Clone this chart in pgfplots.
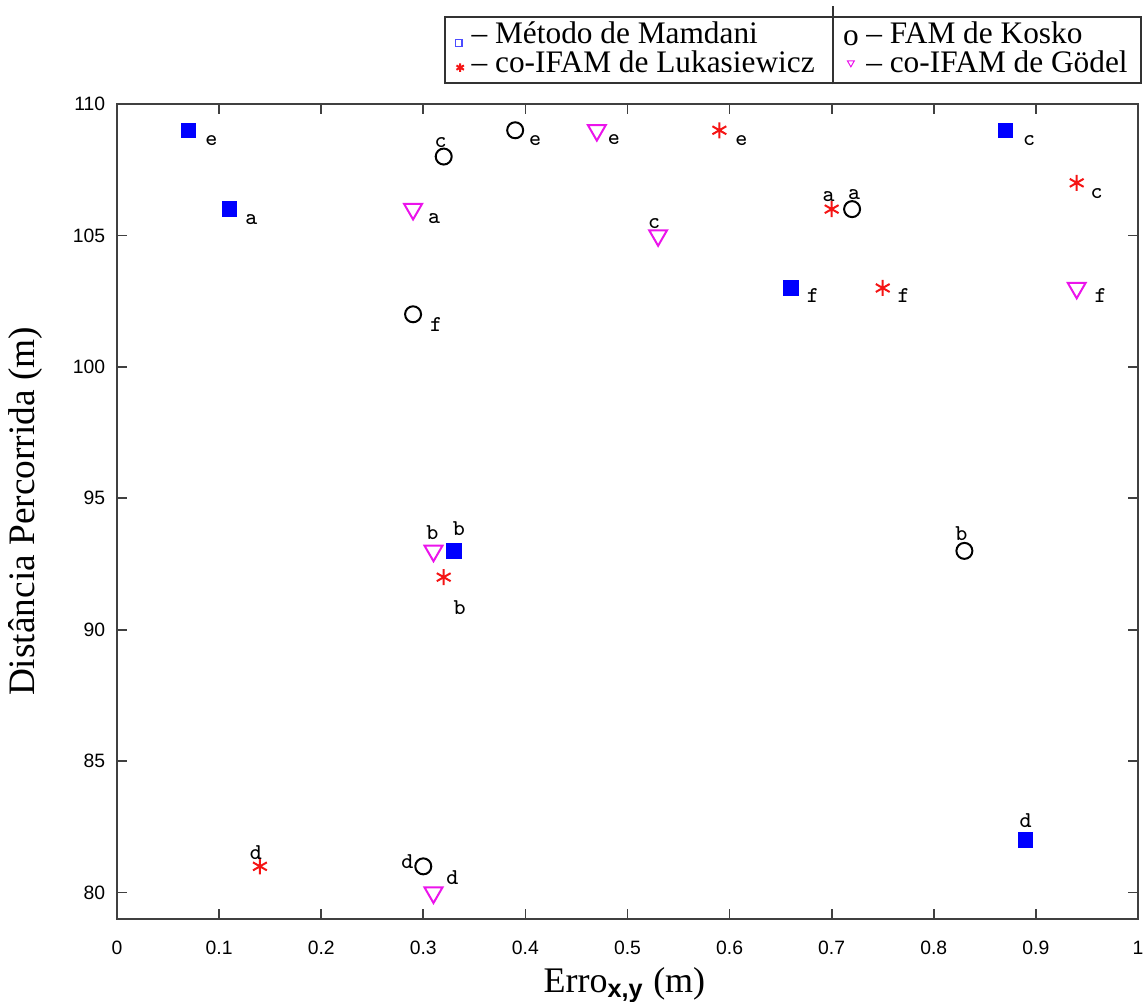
\documentclass[border=0pt]{standalone}
\usepackage{fontspec}
\setmainfont{Liberation Serif}
\setsansfont{Liberation Sans}
\usepackage{pgfplots}
\pgfplotsset{compat=1.18}
\usepackage{pgfplotstable}

\definecolor{mblue}{RGB}{0,0,255}
\definecolor{mred}{RGB}{245,20,20}
\definecolor{mmag}{RGB}{235,20,235}

% x y label, label offset (pt)
\pgfplotstableread{
x y lab dx dy
0.07 109 e 6.9 -3.0
0.11 106 a 6.6 -3.0
0.33 93 b 1.5 6.6
0.66 103 f 6.6 -2.4
0.87 109 c 7.2 -3.0
0.89 82 d 0 5.7
}\mamdani
\pgfplotstableread{
x y lab dx dy
0.39 109 e 6.0 -3.0
0.32 108 c -0.9 4.2
0.29 102 f 6.9 -3.0
0.72 106 a 0.6 4.5
0.83 93 b -0.9 5.1
0.30 81 d -4.8 1.5
}\kosko
\pgfplotstableread{
x y lab dx dy
0.59 109 e 6.6 -3.0
0.70 106 a -0.9 3.9
0.94 107 c 6.0 -3.3
0.75 103 f 6.3 -2.4
0.32 92 b 4.8 -9.0
0.14 81 d -1.2 4.2
}\lukas
\pgfplotstableread{
x y lab dx dy
0.47 109 e 5.1 -2.7
0.29 106 a 6.3 -2.7
0.53 105 c -1.2 3.6
0.94 103 f 7.2 -2.4
0.31 93 b -0.3 5.4
0.31 80 d 5.7 4.5
}\godel

\pgfplotsset{
  lbl/.style={
    only marks,
    nodes near coords,
    point meta=explicit symbolic,
    visualization depends on={\thisrow{dx}\as\dx},
    visualization depends on={\thisrow{dy}\as\dy},
    nodes near coords style={anchor=center, inner sep=0pt, text=black,
      xshift=\dx pt, yshift=\dy pt,
      font=\ttfamily\fontsize{6.8}{7}\selectfont},
  },
}

\begin{document}
\begin{tikzpicture}
\begin{axis}[
  scale only axis,
  width=306.3pt, height=244.5pt,
  clip=false,
  xmin=0, xmax=1, ymin=79, ymax=110,
  xtick={0,0.1,...,1.01},
  ytick={80,85,...,110},
  tick align=inside,
  major tick length=3pt,
  axis line style={black!75},
  every tick/.style={black!75, line width=0.5pt},
  /pgf/number format/assume math mode=true,
  ticklabel style={font=\sffamily\fontsize{5.8}{6}\selectfont},
  xticklabel style={yshift=-3pt},
  xlabel={Erro\textsubscript{\textsf{\bfseries x,y}} (m)},
  ylabel={Distância Percorrida (m)},
  xlabel style={font=\fontsize{10.8}{12}\selectfont, at={(axis description cs:0.497,-0.081)}, anchor=center},
  ylabel style={font=\fontsize{11.2}{12}\selectfont, at={(axis description cs:-0.090,0.5)}, anchor=center},
  legend columns=2,
  legend cell align=left,
  legend style={at={(axis description cs:1.004,1.024)}, anchor=south east,
    draw=black!80, line width=0.6pt, fill=none,
    font=\fontsize{9.4}{10}\selectfont,
    inner xsep=3pt, inner ysep=1pt, row sep=-0.5pt,
    nodes={inner ysep=0.3pt},
    /tikz/every odd column/.append style={column sep=1.3pt},
    /tikz/every even column/.append style={column sep=7.5pt,
      nodes={inner xsep=1pt, inner ysep=0.3pt, text height=6.6pt, text depth=2pt}}},
]
\addplot[lbl, mark=square*, mark size=2.1pt, mblue,
  legend image code/.code={\draw[mblue!70, line width=0.4pt] (0.02cm,-0.11cm) rectangle (0.09cm,-0.04cm);}]
  table[meta=lab] {\mamdani};
\addlegendentry{– Método de Mamdani}
\addplot[lbl, mark=o, mark size=2.4pt, black, mark options={line width=0.6pt},
  legend image code/.code={\node[anchor=base, inner sep=0pt, font=\fontsize{9.4}{10}\selectfont] at (0.07cm,-0.1cm) {o};}]
  table[meta=lab] {\kosko};
\addlegendentry{– FAM de Kosko}
\addplot[lbl, mark=asterisk, mark size=2.4pt, mred, mark options={line width=0.6pt},
  legend image code/.code={\draw[mred, mark=asterisk, mark size=1.3pt, only marks] plot coordinates {(0.07cm,-0.03cm)};}]
  table[meta=lab] {\lukas};
\addlegendentry{– co-IFAM de Lukasiewicz}
\addplot[lbl, mark=triangle, mark size=3.1pt, mmag, mark options={rotate=180, line width=0.6pt},
  legend image code/.code={\draw[mmag, mark=triangle, mark size=1.2pt, mark options={rotate=180, line width=0.3pt}, only marks] plot coordinates {(0.07cm,0.02cm)};}]
  table[meta=lab] {\godel};
\addlegendentry{– co-IFAM de Gödel}
\draw[black!80, line width=0.6pt] (axis description cs:0.701,1.024) -- (axis description cs:0.701,1.120);
\coordinate (bbsw) at (axis description cs:-0.1146,-0.1018);
\coordinate (bbne) at (axis description cs:1.0069,1.1276);
\end{axis}
\pgfresetboundingbox
\path[use as bounding box] (bbsw) rectangle (bbne);
\end{tikzpicture}
\end{document}
